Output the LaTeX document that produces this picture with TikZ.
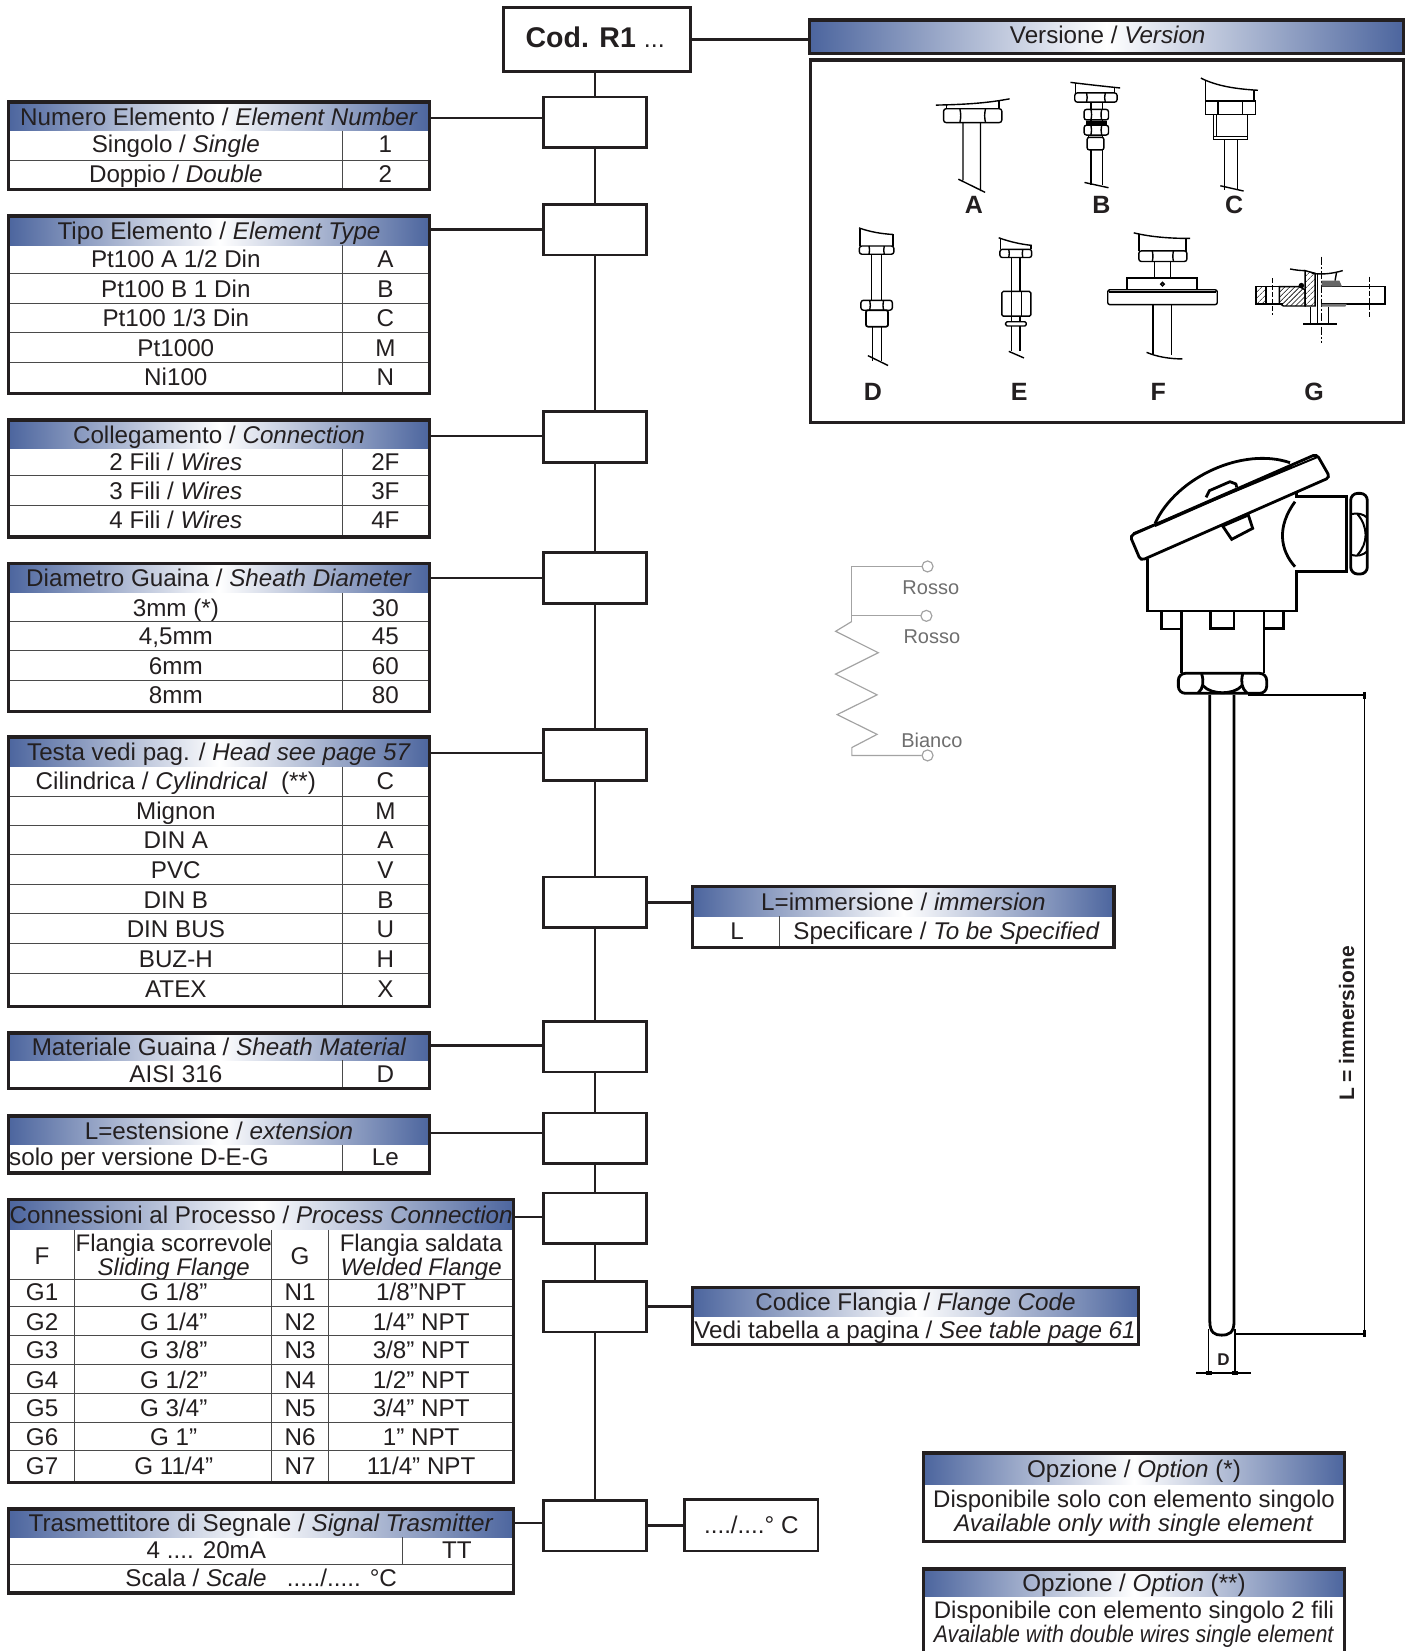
\documentclass[tikz,border=0pt]{standalone}
\usepackage{fontspec}
\setmainfont{Liberation Sans}
\usetikzlibrary{fit,patterns.meta}
\definecolor{hdblue}{HTML}{4C659E}
\definecolor{inkcol}{HTML}{231F20}
\definecolor{rulecol}{HTML}{4A4A4A}
\definecolor{wirecol}{HTML}{A3A3A3}
\definecolor{wiretext}{HTML}{6E6E6E}
\tikzset{
	headbar/.style={left color=hdblue,right color=hdblue,middle color=white,inner sep=0pt,outer sep=0pt},
	frameline/.style={draw=inkcol,line width=3.3pt},
	rowline/.style={draw=rulecol,line width=1pt},
	connect/.style={draw=inkcol,line width=2.6pt},
	codebox/.style={draw=inkcol,line width=2.6pt,fill=white,inner sep=0pt},
	celltext/.style={inner sep=0pt,text height=17.4pt,text depth=0pt},
	tech/.style={draw=black,line width=1.4pt},
	headline/.style={draw=black,line width=2.8pt},
	dimline/.style={draw=black,line width=1.3pt},
	dimend/.style={draw=black,line width=3.4pt},
	wire/.style={draw=wirecol,line width=1.2pt},
	wirelabel/.style={text=wiretext,font=\fontsize{20}{22}\selectfont,inner sep=0pt},
	verlabel/.style={font=\bfseries\fontsize{25}{28}\selectfont,inner sep=0pt},
}
% shaded title bar of a table
\newcommand{\tabhead}[6]{%
	\node[headbar,fit={(#2,#3) (#4,#5)}] (#1) {};
	\node[celltext] (#1text) at (#1) {#6};
}
% rows of the two column tables
\newcommand{\tabrows}[2]{%
	\foreach \yy/\ltext/\rtext [count=\ii] in {#2} {
		\node[celltext] (#1l\ii) at (167,\yy) {\ltext};
		\node[celltext] (#1r\ii) at (366,\yy) {\rtext};
	}%
}
% nut seen from the side
\newcommand{\capnut}[4]{%
	\pgfmathsetmacro{\nuta}{#1+.28*(#2-#1)}
	\pgfmathsetmacro{\nutb}{#1+.72*(#2-#1)}
	\draw[tech,rounded corners=2.5pt] (#1,#3) rectangle (#2,#4);
	\draw[tech] (\nuta,#3) to[bend left=12] (\nuta,#4) (\nutb,#3) to[bend right=12] (\nutb,#4);
}
\newcommand{\shaft}[4]{\draw[tech] (#1,#3)--(#1,#4) (#2,#3)--(#2,#4);}
\begin{document}
\begin{tikzpicture}[x=1.0529pt,y=-1.0529pt,font=\fontsize{24.2}{28}\selectfont,text=inkcol]
	\useasboundingbox (0,0) rectangle (1342,1568);
	% code column
	\node[codebox,fit={(478,7) (656,68)}] (cod) {};
	\node[inner sep=0pt,anchor=base west] (codtext) at (499,45) {\fontsize{28.5}{30}\selectfont\bfseries Cod. R1\ \mdseries\fontsize{25}{30}\selectfont ...};
	\foreach \n/\ya/\yb in {1/92/140,2/194/242,3/391/439,4/525/573,5/693/741,6/833/881,7/970/1018,8/1057/1105,9/1133/1181,10/1217/1265,11/1425/1473}
		\node[codebox,fit={(516,\ya) (614,\yb)}] (code\n) {};
	\draw[connect] (code1.north |- cod.south)--(code1.north);
	\foreach \a/\b in {1/2,2/3,3/4,4/5,5/6,6/7,7/8,8/9,9/10,10/11}
		\draw[connect] (code\a.south)--(code\b.north);
	% numero elemento
	\tabhead{numhead}{8}{97}{408}{124}{Numero Elemento / \textit{Element Number}}
	\tabrows{num}{137/{Singolo / \textit{Single}}/1,165/{Doppio / \textit{Double}}/2}
	\draw[rowline] (8,152)--(408,152) (325,124)--(325,180);
	\draw[frameline] (8,97) rectangle (408,180);
	% tipo elemento
	\tabhead{tipohead}{8}{205}{408}{233}{Tipo Elemento / \textit{Element Type}}
	\tabrows{tipo}{246/{Pt100 A 1/2 Din}/A,274/Pt100 B 1 Din/B,302/{Pt100 1/3 Din}/C,330/Pt1000/M,358/Ni100/N}
	\foreach \yy in {260,288,316,344} \draw[rowline] (8,\yy)--(408,\yy);
	\draw[rowline] (325,233)--(325,374);
	\draw[frameline] (8,205) rectangle (408,374);
	% collegamento
	\tabhead{collhead}{8}{399}{408}{426}{Collegamento / \textit{Connection}}
	\tabrows{coll}{439/{2 Fili / \textit{Wires}}/2F,466/{3 Fili / \textit{Wires}}/3F,494/{4 Fili / \textit{Wires}}/4F}
	\foreach \yy in {452,480} \draw[rowline] (8,\yy)--(408,\yy);
	\draw[rowline] (325,426)--(325,510);
	\draw[frameline] (8,399) rectangle (408,510);
	% diametro guaina
	\tabhead{diamhead}{8}{535}{408}{563}{Diametro Guaina / \textit{Sheath Diameter}}
	\tabrows{diam}{577/3mm (*)/30,604/{4,5mm}/45,632/6mm/60,660/8mm/80}
	\foreach \yy in {590,618,646} \draw[rowline] (8,\yy)--(408,\yy);
	\draw[rowline] (325,563)--(325,676);
	\draw[frameline] (8,535) rectangle (408,676);
	% testa
	\tabhead{testahead}{8}{700}{408}{728}{Testa vedi pag. / \textit{Head see page 57}}
	\tabrows{testa}{742/{Cilindrica / \textit{Cylindrical}\ \ (**)}/C,770/Mignon/M,798/DIN A/A,826/PVC/V,855/DIN B/B,882/DIN BUS/U,911/BUZ-H/H,939/ATEX/X}
	\foreach \yy in {756,784,812,840,868,896,925} \draw[rowline] (8,\yy)--(408,\yy);
	\draw[rowline] (325,728)--(325,956);
	\draw[frameline] (8,700) rectangle (408,956);
	% materiale
	\tabhead{mathead}{8}{981}{408}{1007}{Materiale Guaina / \textit{Sheath Material}}
	\tabrows{mat}{1020/AISI 316/D}
	\draw[rowline] (325,1007)--(325,1034);
	\draw[frameline] (8,981) rectangle (408,1034);
	% estensione
	\tabhead{esthead}{8}{1060}{408}{1087}{L=estensione / \textit{extension}}
	\node[celltext] (estl) at (132,1099) {solo per versione D-E-G};
	\node[celltext] (estr) at (366,1099) {Le};
	\draw[rowline] (325,1087)--(325,1114);
	\draw[frameline] (8,1060) rectangle (408,1114);
	% connessioni
	\tabhead{connhead}{8}{1139}{488}{1168}{Connessioni al Processo / \textit{Process Connection}}
	\node[celltext] (connf) at (40,1193) {F};
	\node[celltext] (conng) at (285,1193) {G};
	\node[inner sep=0pt,align=center,font=\fontsize{24}{21}\selectfont] (connfa) at (165,1194) {Flangia scorrevole\\\textit{Sliding Flange}};
	\node[inner sep=0pt,align=center,font=\fontsize{24}{21}\selectfont] (connga) at (400,1194) {Flangia saldata\\\textit{Welded Flange}};
	\foreach \yy/\gg/\gsize/\nn/\nsize [count=\ii] in {1227/G1/{G 1/8”}/N1/{1/8”NPT},1255/G2/{G 1/4”}/N2/{1/4” NPT},1282/G3/{G 3/8”}/N3/{3/8” NPT},1310/G4/{G 1/2”}/N4/{1/2” NPT},1337/G5/{G 3/4”}/N5/{3/4” NPT},1365/G6/{G 1”}/N6/{1” NPT},1392/G7/{G 11/4”}/N7/{11/4” NPT}} {
		\node[celltext] (conna\ii) at (40,\yy) {\gg};
		\node[celltext] (connb\ii) at (165,\yy) {\gsize};
		\node[celltext] (connc\ii) at (285,\yy) {\nn};
		\node[celltext] (connd\ii) at (400,\yy) {\nsize};
	}
	\foreach \yy in {1215,1241,1268,1296,1323,1351,1378} \draw[rowline] (8,\yy)--(488,\yy);
	\foreach \xx in {71,258,312} \draw[rowline] (\xx,1168)--(\xx,1408);
	\draw[frameline] (8,1139) rectangle (488,1408);
	% trasmettitore
	\tabhead{trashead}{8}{1433}{488}{1460}{Trasmettitore di Segnale / \textit{Signal Trasmitter}}
	\node[celltext] (trasl) at (196,1472) {4 .... 20mA};
	\node[celltext] (trasr) at (434,1472) {TT};
	\node[celltext] (scala) at (248,1498) {Scala / \textit{Scale}\ \ \ ...../..... °C};
	\draw[rowline] (8,1486)--(488,1486) (382,1460)--(382,1486);
	\draw[frameline] (8,1433) rectangle (488,1513);
	% connectors to the left tables
	\foreach \hh/\n/\off in {numhead/1/-1.5,tipohead/2/1,collhead/3/-1.5,diamhead/4/0,testahead/5/-1,mathead/7/1,esthead/8/-2.5,connhead/9/-2.5,trashead/11/0}
		\draw[connect] ([yshift=\off pt]\hh.east)--([yshift=\off pt]\hh.east -| code\n.west);
	% immersione
	\tabhead{immhead}{658}{842}{1058}{870}{L=immersione / \textit{immersion}}
	\node[celltext] (imml) at (700,884) {L};
	\node[celltext] (immr) at (899,884) {Specificare / \textit{To be Specified}};
	\draw[rowline] (740,870)--(740,900);
	\draw[frameline] (658,842) rectangle (1058,900);
	\draw[connect] (code6.east)--(code6.east -| immhead.west);
	% codice flangia
	\tabhead{flanhead}{658}{1223}{1081}{1250}{Codice Flangia / \textit{Flange Code}}
	\node[celltext] (flanl) at (869,1263) {Vedi tabella a pagina / \textit{See table page 61}};
	\draw[frameline] (658,1223) rectangle (1081,1277);
	\draw[connect] (code10.east)--(code10.east -| flanhead.west);
	% scale box
	\node[codebox,fit={(650,1424) (777,1473)}] (scalebox) {};
	\node[celltext] (scaletext) at (scalebox) {..../....° C};
	\draw[connect] (code11.east)--(code11.east -| scalebox.west);
	% versione
	\node[headbar,fit={(769,19) (1333,51)}] (verhead) {};
	\node[celltext] (verheadtext) at (1052,33) {Versione / \textit{Version}};
	\draw[frameline] (769,19) rectangle (1333,51);
	\draw[connect] (cod.east)--(cod.east -| verhead.west);
	\draw[frameline] (770,57) rectangle (1333,401);
	\foreach \ll/\xx/\yy in {A/925/195,B/1046/195,C/1172/195,D/829/372,E/968/372,F/1100/372,G/1248/372}
		\node[verlabel] (ver\ll) at (\xx,\yy) {\ll};
	% versions, drawn on their own grid
	\begin{scope}[shift={(761.6,3.84)},x=.3881pt,y=-.3292pt]
		% A
		\draw[tech] (345,307) .. controls (430,305) and (480,300) .. (535,288);
		\draw[tech] (372,306)--(372,318) (508,295)--(508,318);
		\capnut{365}{515}{318}{360}
		\draw[tech] (415,360)--(415,535) (460,360)--(460,568) (403,532)--(472,572);
		% B
		\draw[tech] (692,238) .. controls (740,245) and (780,250) .. (820,255);
		\draw[tech] (705,240)--(705,270) (805,252)--(805,270);
		\capnut{703}{812}{270}{298}
		\shaft{745}{775}{298}{320}
		\capnut{727}{790}{320}{352}
		\draw[tech] (733,358)--(785,358) (733,364)--(785,364);
		\shaft{745}{775}{352}{368}
		\capnut{727}{790}{368}{398}
		\draw[tech,rounded corners=2pt] (735,405) rectangle (778,443);
		\draw[tech] (738,398)--(738,405) (775,398)--(775,405);
		\shaft{745}{775}{443}{550}
		\draw[tech] (728,542)--(790,558);
		% C
		\draw[tech] (1028,225) .. controls (1070,250) and (1120,258) .. (1175,262);
		\draw[tech] (1040,232)--(1040,295) (1165,262)--(1165,295);
		\draw[tech] (1040,295) rectangle (1168,335) (1072,295)--(1072,335) (1135,295)--(1135,335);
		\draw[tech] (1060,335) rectangle (1148,412) (1060,403)--(1148,403) (1068,335)--(1068,403);
		\shaft{1088}{1122}{412}{565}
		\draw[tech] (1078,552)--(1138,568);
		% D
		\draw[tech] (147,680) .. controls (175,692) and (205,698) .. (235,700);
		\draw[tech] (150,682)--(150,735) (235,700)--(235,735);
		\capnut{148}{237}{735}{760}
		\shaft{180}{205}{760}{900}
		\capnut{152}{233}{900}{930}
		\draw[tech,rounded corners=2pt,line width=1.7pt] (165,930) rectangle (222,980);
		\shaft{182}{205}{980}{1085}
		\draw[tech] (170,1068)--(222,1098);
		% E
		\draw[tech] (507,710) .. controls (535,722) and (565,730) .. (592,733);
		\draw[tech] (512,712)--(512,745) (590,733)--(590,745);
		\capnut{510}{592}{745}{770}
		\shaft{540}{562}{770}{873}
		\draw[tech,rounded corners=1.5pt] (515,873) rectangle (590,948);
		\shaft{540}{565}{873}{948}
		\shaft{540}{562}{948}{965}
		\draw[tech,rounded corners=1.5pt] (525,965) rectangle (578,978);
		\shaft{540}{562}{978}{1055}
		\draw[tech] (533,1055)--(572,1075);
		% F
		\draw[tech] (855,695) .. controls (900,708) and (950,712) .. (1000,712);
		\draw[tech] (868,698)--(868,750) (990,712)--(990,750);
		\capnut{868}{992}{750}{782}
		\shaft{908}{950}{782}{832}
		\draw[tech] (838,868)--(838,832)--(1018,832)--(1018,868);
		\draw[tech,rounded corners=2pt] (788,868) rectangle (1070,913);
		\draw[tech] (790,875)--(1068,875);
		\draw[tech,fill=gray] (929,851) circle (1.8pt);
		\shaft{905}{952}{913}{1065}
		\draw[tech] (888,1058) .. controls (915,1072) and (950,1078) .. (980,1078);
	\end{scope}
	% G
	\begin{scope}[shift={(1177.7,227.9)},x=.3333pt,y=-.3333pt]
		\draw[dimline,dash pattern=on 8pt off 2pt on 2pt off 2pt,line width=.8pt] (243,50)--(243,310);
		\draw[dimline,dash pattern=on 5pt off 2pt,line width=.7pt] (97,115)--(97,225) (387,110)--(387,230);
		\draw[tech] (150,87) .. controls (165,90) and (180,92) .. (195,92) (215,100) .. controls (250,105) and (280,100) .. (308,92) (290,95)--(285,122);
		\draw[tech] (48,140)--(178,140) (48,192)--(130,192);
		\draw[tech,pattern={Lines[angle=45,distance=4pt,line width=.6pt]}] (48,140) rectangle (78,192);
		\draw[tech,pattern={Lines[angle=45,distance=3.5pt,line width=.6pt]}] (118,140)--(180,140)--(195,150)--(195,198)--(130,198)--(118,190)--cycle;
		\draw[tech,pattern={Lines[angle=45,distance=4pt,line width=.6pt]}] (195,92)--(225,100)--(225,198)--(195,198)--cycle;
		\fill (184,137) circle (2.8pt);
		\draw[tech] (232,100)--(232,248) (212,200)--(212,248);
		\draw[tech] (243,140)--(435,140)--(435,192)--(243,192);
		\fill[black!60] (245,122)--(298,122)--(306,140)--(245,140)--cycle;
		\fill[black!55] (245,192)--(320,192)--(316,200)--(245,200)--cycle;
		\draw[tech] (265,200)--(265,248) (190,252)--(290,252);
	\end{scope}
	% wiring
	\begin{scope}[shift={(768.5,419.8)},x=.3881pt,y=-.3292pt]
		\draw[wire] (290,378)--(110,378)--(110,545);
		\draw[wire] (110,528)--(287,528);
		\draw[wire] (110,545)--(68,575)--(178,640)--(68,705)--(175,768)--(72,828)--(175,888)--(110,928)--(110,952)--(290,952);
		\foreach \xx/\yy in {305/378,302/528,305/952}
			\draw[wire] (\xx,\yy) circle (5.5pt);
	\end{scope}
	\node[wirelabel] (rossoa) at (884,558) {Rosso};
	\node[wirelabel] (rossob) at (885,605) {Rosso};
	\node[wirelabel] (bianco) at (885,703) {Bianco};
	% head
	\begin{scope}[shift={(1063.7,417.9)},x=.3333pt,y=-.3333pt]
		\draw[headline] (105,250) .. controls (170,110) and (370,20) .. (510,68);
		\draw[headline,line join=round] (258,172)--(268,152)--(330,125)--(348,132)--(350,142);
		\draw[headline,fill=white,rounded corners=4pt] (30,287)--(590,42)--(630,112)--(62,362)--cycle;
		\draw[headline,line width=2pt] (40,280)--(595,50);
		\draw[headline,line width=2pt] (105,258)--(515,78);
		\draw[headline] (308,258)--(385,225)--(398,265)--(335,298)--cycle;
		\draw[headline] (82,358)--(82,513)--(530,513)--(530,395)--(680,395);
		\draw[headline] (530,155)--(530,170)--(680,170);
		\draw[headline] (525,185) .. controls (470,260) and (480,330) .. (525,380);
		\draw[headline] (680,165)--(680,400);
		\draw[headline,rounded corners=7pt] (692,160) rectangle (742,402);
		\draw[headline,line width=2pt] (695,222) .. controls (712,218) and (730,222) .. (740,232) (695,345) .. controls (712,350) and (730,345) .. (740,335);
		\draw[headline,line width=2pt] (712,222) .. controls (745,260) and (745,310) .. (712,345);
		\draw[headline] (125,515)--(125,567)--(185,567);
		\draw[headline] (272,515)--(272,565)--(342,565)--(342,515);
		\draw[headline] (490,515)--(490,565)--(432,565);
		\draw[headline] (185,515)--(185,700) (432,515)--(432,700);
		\draw[headline,rounded corners=7pt] (175,700) rectangle (440,760);
		\draw[headline] (245,702) .. controls (252,725) and (250,745) .. (235,758) (368,702) .. controls (362,725) and (365,745) .. (380,758);
		\draw[headline] (250,738) .. controls (275,765) and (340,765) .. (365,738);
	\end{scope}
	% stem and dimensions
	\draw[headline] (1149,660)--(1149,1255) .. controls (1149,1266) and (1154,1268) .. (1160,1268) .. controls (1167,1268) and (1172,1266) .. (1172,1255)--(1172,660);
	\draw[dimline] (1185,660)--(1296,660)--(1296,1267)--(1172,1267);
	\draw[dimend] (1296,657)--(1296,664) (1296,1263)--(1296,1270);
	\draw[dimline] (1148,1262)--(1148,1305) (1173,1262)--(1173,1305) (1136,1304)--(1188,1304);
	\draw[dimend] (1145,1304)--(1151,1304) (1170,1304)--(1176,1304);
	\node[inner sep=0pt,rotate=90,font=\bfseries\fontsize{21}{24}\selectfont] (immlabel) at (1279,972) {L = immersione};
	\node[inner sep=0pt,font=\bfseries\fontsize{17}{20}\selectfont] (dlabel) at (1162,1291) {D};
	% opzioni
	\tabhead{opzahead}{877}{1380}{1277}{1410}{Opzione / \textit{Option} (*)}
	\node[inner sep=0pt,align=center,font=\fontsize{24}{24}\selectfont] (opzatext) at (1077,1437) {Disponibile solo con elemento singolo\\\textit{Available only with single element}};
	\draw[frameline] (877,1380) rectangle (1277,1464);
	\tabhead{opzbhead}{877}{1490}{1277}{1516}{Opzione / \textit{Option} (**)}
	\node[inner sep=0pt,align=center,font=\fontsize{24}{24}\selectfont] (opzbtext) at (1077,1543) {Disponibile con elemento singolo 2 fili\\\scalebox{.89}[1]{\textit{Available with double wires single element}}};
	\draw[frameline] (877,1575)--(877,1490)--(1277,1490)--(1277,1575);
\end{tikzpicture}
\end{document}
